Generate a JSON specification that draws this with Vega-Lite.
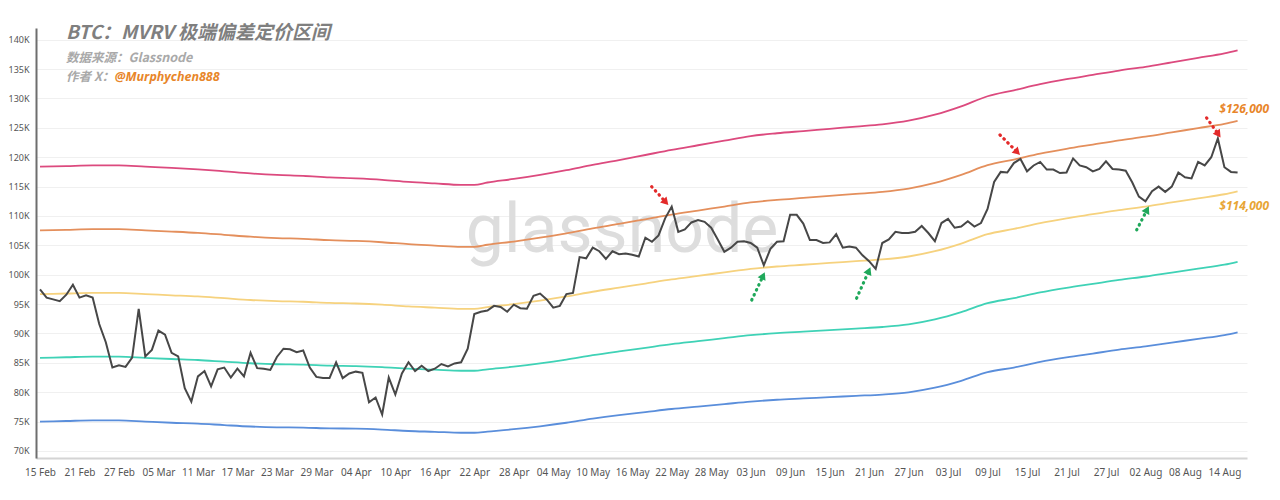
{
  "$schema": "https://vega.github.io/schema/vega-lite/v6.json",
  "width": 1211,
  "height": 430,
  "autosize": {"type": "none"},
  "padding": {"left": 36, "top": 28, "right": 33, "bottom": 42},
  "background": "#ffffff",
  "title": {
    "text": "BTC：MVRV 极端偏差定价区间",
    "subtitle": "数据来源：Glassnode",
    "anchor": "start",
    "frame": "group",
    "dx": 30,
    "offset": -36,
    "font": "Noto Sans CJK SC",
    "fontSize": 19,
    "fontStyle": "italic",
    "fontWeight": "bold",
    "color": "#7f7f7f",
    "subtitleFont": "Noto Sans CJK SC",
    "subtitleFontSize": 12.5,
    "subtitleFontStyle": "italic",
    "subtitleFontWeight": "bold",
    "subtitleColor": "#a9a9a9",
    "subtitlePadding": 9
  },
  "config": {"view": {"stroke": null}},
  "resolve": {"scale": {"color": "independent"}},
  "encoding": {
    "y": {
      "type": "quantitative",
      "scale": {"domain": [68800, 142000], "nice": false, "zero": false},
      "axis": {
        "title": null, "values": [70000, 75000, 80000, 85000, 90000, 95000, 100000, 105000, 110000, 115000, 120000, 125000, 130000, 135000, 140000],
        "tickCount": 15,
        "labelExpr": "datum.value / 1000 + 'K'", "ticks": false, "labelPadding": 7, "labelOverlap": false,
        "labelFont": "Noto Sans", "labelFontSize": 9, "labelColor": "#555555",
        "domainColor": "#6e6e6e", "domainWidth": 2, "grid": true, "gridColor": "#f0f0f0", "gridWidth": 1
      }
    }
  },
  "datasets": {
    "price": [
      {"date": "2025-02-15", "price": 97500}, {"date": "2025-02-16", "price": 96100}, {"date": "2025-02-17", "price": 95800}, {"date": "2025-02-18", "price": 95500}, {"date": "2025-02-19", "price": 96600}, {"date": "2025-02-20", "price": 98300}, {"date": "2025-02-21", "price": 96100}, {"date": "2025-02-22", "price": 96500}, {"date": "2025-02-23", "price": 96100}, {"date": "2025-02-24", "price": 91600}, {"date": "2025-02-25", "price": 88500}, {"date": "2025-02-26", "price": 84200}, {"date": "2025-02-27", "price": 84600}, {"date": "2025-02-28", "price": 84300},
      {"date": "2025-03-01", "price": 85900}, {"date": "2025-03-02", "price": 94200}, {"date": "2025-03-03", "price": 86100}, {"date": "2025-03-04", "price": 87200}, {"date": "2025-03-05", "price": 90500}, {"date": "2025-03-06", "price": 89800}, {"date": "2025-03-07", "price": 86700}, {"date": "2025-03-08", "price": 86100}, {"date": "2025-03-09", "price": 80700}, {"date": "2025-03-10", "price": 78400}, {"date": "2025-03-11", "price": 82700}, {"date": "2025-03-12", "price": 83600}, {"date": "2025-03-13", "price": 81000}, {"date": "2025-03-14", "price": 83900}, {"date": "2025-03-15", "price": 84200}, {"date": "2025-03-16", "price": 82500}, {"date": "2025-03-17", "price": 84000}, {"date": "2025-03-18", "price": 82700}, {"date": "2025-03-19", "price": 86700}, {"date": "2025-03-20", "price": 84100}, {"date": "2025-03-21", "price": 84000}, {"date": "2025-03-22", "price": 83800}, {"date": "2025-03-23", "price": 86000}, {"date": "2025-03-24", "price": 87400}, {"date": "2025-03-25", "price": 87300}, {"date": "2025-03-26", "price": 86800}, {"date": "2025-03-27", "price": 87100}, {"date": "2025-03-28", "price": 84200}, {"date": "2025-03-29", "price": 82600}, {"date": "2025-03-30", "price": 82400}, {"date": "2025-03-31", "price": 82400},
      {"date": "2025-04-01", "price": 85100}, {"date": "2025-04-02", "price": 82400}, {"date": "2025-04-03", "price": 83200}, {"date": "2025-04-04", "price": 83500}, {"date": "2025-04-05", "price": 83300}, {"date": "2025-04-06", "price": 78300}, {"date": "2025-04-07", "price": 79100}, {"date": "2025-04-08", "price": 76200}, {"date": "2025-04-09", "price": 82500}, {"date": "2025-04-10", "price": 79600}, {"date": "2025-04-11", "price": 83200}, {"date": "2025-04-12", "price": 85100}, {"date": "2025-04-13", "price": 83600}, {"date": "2025-04-14", "price": 84500}, {"date": "2025-04-15", "price": 83600}, {"date": "2025-04-16", "price": 84000}, {"date": "2025-04-17", "price": 84800}, {"date": "2025-04-18", "price": 84400}, {"date": "2025-04-19", "price": 84900}, {"date": "2025-04-20", "price": 85100}, {"date": "2025-04-21", "price": 87400}, {"date": "2025-04-22", "price": 93300}, {"date": "2025-04-23", "price": 93700}, {"date": "2025-04-24", "price": 93900}, {"date": "2025-04-25", "price": 94700}, {"date": "2025-04-26", "price": 94500}, {"date": "2025-04-27", "price": 93700}, {"date": "2025-04-28", "price": 94900}, {"date": "2025-04-29", "price": 94300}, {"date": "2025-04-30", "price": 94200},
      {"date": "2025-05-01", "price": 96400}, {"date": "2025-05-02", "price": 96800}, {"date": "2025-05-03", "price": 95800}, {"date": "2025-05-04", "price": 94400}, {"date": "2025-05-05", "price": 94700}, {"date": "2025-05-06", "price": 96700}, {"date": "2025-05-07", "price": 96900}, {"date": "2025-05-08", "price": 103000}, {"date": "2025-05-09", "price": 102800}, {"date": "2025-05-10", "price": 104600}, {"date": "2025-05-11", "price": 104000}, {"date": "2025-05-12", "price": 102700}, {"date": "2025-05-13", "price": 104000}, {"date": "2025-05-14", "price": 103500}, {"date": "2025-05-15", "price": 103600}, {"date": "2025-05-16", "price": 103400}, {"date": "2025-05-17", "price": 103100}, {"date": "2025-05-18", "price": 106300}, {"date": "2025-05-19", "price": 105600}, {"date": "2025-05-20", "price": 106700}, {"date": "2025-05-21", "price": 109600}, {"date": "2025-05-22", "price": 111600}, {"date": "2025-05-23", "price": 107300}, {"date": "2025-05-24", "price": 107700}, {"date": "2025-05-25", "price": 108900}, {"date": "2025-05-26", "price": 109300}, {"date": "2025-05-27", "price": 109000}, {"date": "2025-05-28", "price": 108000}, {"date": "2025-05-29", "price": 106000}, {"date": "2025-05-30", "price": 103900}, {"date": "2025-05-31", "price": 104600},
      {"date": "2025-06-01", "price": 105600}, {"date": "2025-06-02", "price": 105700}, {"date": "2025-06-03", "price": 105400}, {"date": "2025-06-04", "price": 104600}, {"date": "2025-06-05", "price": 101600}, {"date": "2025-06-06", "price": 104400}, {"date": "2025-06-07", "price": 105600}, {"date": "2025-06-08", "price": 105700}, {"date": "2025-06-09", "price": 110200}, {"date": "2025-06-10", "price": 110200}, {"date": "2025-06-11", "price": 108700}, {"date": "2025-06-12", "price": 105900}, {"date": "2025-06-13", "price": 105900}, {"date": "2025-06-14", "price": 105400}, {"date": "2025-06-15", "price": 105500}, {"date": "2025-06-16", "price": 106900}, {"date": "2025-06-17", "price": 104600}, {"date": "2025-06-18", "price": 104800}, {"date": "2025-06-19", "price": 104600}, {"date": "2025-06-20", "price": 103300}, {"date": "2025-06-21", "price": 102300}, {"date": "2025-06-22", "price": 101000}, {"date": "2025-06-23", "price": 105400}, {"date": "2025-06-24", "price": 106000}, {"date": "2025-06-25", "price": 107300}, {"date": "2025-06-26", "price": 107100}, {"date": "2025-06-27", "price": 107100}, {"date": "2025-06-28", "price": 107300}, {"date": "2025-06-29", "price": 108300}, {"date": "2025-06-30", "price": 107100},
      {"date": "2025-07-01", "price": 105700}, {"date": "2025-07-02", "price": 108800}, {"date": "2025-07-03", "price": 109500}, {"date": "2025-07-04", "price": 108000}, {"date": "2025-07-05", "price": 108200}, {"date": "2025-07-06", "price": 109100}, {"date": "2025-07-07", "price": 108200}, {"date": "2025-07-08", "price": 108800}, {"date": "2025-07-09", "price": 111200}, {"date": "2025-07-10", "price": 115800}, {"date": "2025-07-11", "price": 117500}, {"date": "2025-07-12", "price": 117400}, {"date": "2025-07-13", "price": 119000}, {"date": "2025-07-14", "price": 119700}, {"date": "2025-07-15", "price": 117600}, {"date": "2025-07-16", "price": 118600}, {"date": "2025-07-17", "price": 119200}, {"date": "2025-07-18", "price": 117900}, {"date": "2025-07-19", "price": 117900}, {"date": "2025-07-20", "price": 117300}, {"date": "2025-07-21", "price": 117400}, {"date": "2025-07-22", "price": 119800}, {"date": "2025-07-23", "price": 118600}, {"date": "2025-07-24", "price": 118300}, {"date": "2025-07-25", "price": 117600}, {"date": "2025-07-26", "price": 118000}, {"date": "2025-07-27", "price": 119300}, {"date": "2025-07-28", "price": 118000}, {"date": "2025-07-29", "price": 117900}, {"date": "2025-07-30", "price": 117700}, {"date": "2025-07-31", "price": 115700},
      {"date": "2025-08-01", "price": 113300}, {"date": "2025-08-02", "price": 112500}, {"date": "2025-08-03", "price": 114200}, {"date": "2025-08-04", "price": 115000}, {"date": "2025-08-05", "price": 114100}, {"date": "2025-08-06", "price": 115000}, {"date": "2025-08-07", "price": 117400}, {"date": "2025-08-08", "price": 116600}, {"date": "2025-08-09", "price": 116400}, {"date": "2025-08-10", "price": 119200}, {"date": "2025-08-11", "price": 118600}, {"date": "2025-08-12", "price": 120000}, {"date": "2025-08-13", "price": 123200}, {"date": "2025-08-14", "price": 118300}, {"date": "2025-08-15", "price": 117500}, {"date": "2025-08-16", "price": 117400}
    ],
    "bands": [
      {"date": "2025-02-15", "p2": 118400, "p1": 107550, "m0": 96700, "n1": 85850, "n2": 75000},
      {"date": "2025-02-19", "p2": 118500, "p1": 107650, "m0": 96800, "n1": 85950, "n2": 75100},
      {"date": "2025-02-23", "p2": 118600, "p1": 107750, "m0": 96900, "n1": 86050, "n2": 75200},
      {"date": "2025-02-27", "p2": 118600, "p1": 107750, "m0": 96900, "n1": 86050, "n2": 75200},
      {"date": "2025-03-03", "p2": 118400, "p1": 107550, "m0": 96700, "n1": 85850, "n2": 75000},
      {"date": "2025-03-07", "p2": 118200, "p1": 107350, "m0": 96500, "n1": 85650, "n2": 74800},
      {"date": "2025-03-11", "p2": 117940, "p1": 107120, "m0": 96300, "n1": 85480, "n2": 74660},
      {"date": "2025-03-15", "p2": 117600, "p1": 106800, "m0": 96000, "n1": 85200, "n2": 74400},
      {"date": "2025-03-19", "p2": 117240, "p1": 106470, "m0": 95700, "n1": 84930, "n2": 74160},
      {"date": "2025-03-23", "p2": 116980, "p1": 106240, "m0": 95500, "n1": 84760, "n2": 74020},
      {"date": "2025-03-27", "p2": 116820, "p1": 106110, "m0": 95400, "n1": 84690, "n2": 73980},
      {"date": "2025-03-31", "p2": 116560, "p1": 105880, "m0": 95200, "n1": 84520, "n2": 73840},
      {"date": "2025-04-04", "p2": 116400, "p1": 105750, "m0": 95100, "n1": 84450, "n2": 73800},
      {"date": "2025-04-08", "p2": 116160, "p1": 105530, "m0": 94900, "n1": 84270, "n2": 73640},
      {"date": "2025-04-12", "p2": 115800, "p1": 105200, "m0": 94600, "n1": 84000, "n2": 73400},
      {"date": "2025-04-16", "p2": 115540, "p1": 104970, "m0": 94400, "n1": 83830, "n2": 73260},
      {"date": "2025-04-20", "p2": 115300, "p1": 104750, "m0": 94200, "n1": 83650, "n2": 73100},
      {"date": "2025-04-22", "p2": 115300, "p1": 104750, "m0": 94200, "n1": 83650, "n2": 73100},
      {"date": "2025-04-24", "p2": 115700, "p1": 105100, "m0": 94500, "n1": 83900, "n2": 73300},
      {"date": "2025-04-28", "p2": 116300, "p1": 105650, "m0": 95000, "n1": 84350, "n2": 73700},
      {"date": "2025-05-02", "p2": 117000, "p1": 106300, "m0": 95600, "n1": 84900, "n2": 74200},
      {"date": "2025-05-06", "p2": 117800, "p1": 107050, "m0": 96300, "n1": 85550, "n2": 74800},
      {"date": "2025-05-10", "p2": 118700, "p1": 107900, "m0": 97100, "n1": 86300, "n2": 75500},
      {"date": "2025-05-14", "p2": 119500, "p1": 108650, "m0": 97800, "n1": 86950, "n2": 76100},
      {"date": "2025-05-18", "p2": 120380, "p1": 109440, "m0": 98500, "n1": 87560, "n2": 76620},
      {"date": "2025-05-22", "p2": 121260, "p1": 110230, "m0": 99200, "n1": 88170, "n2": 77140},
      {"date": "2025-05-26", "p2": 122040, "p1": 110920, "m0": 99800, "n1": 88680, "n2": 77560},
      {"date": "2025-05-30", "p2": 122820, "p1": 111610, "m0": 100400, "n1": 89190, "n2": 77980},
      {"date": "2025-06-03", "p2": 123600, "p1": 112300, "m0": 101000, "n1": 89700, "n2": 78400},
      {"date": "2025-06-07", "p2": 124080, "p1": 112740, "m0": 101400, "n1": 90060, "n2": 78720},
      {"date": "2025-06-11", "p2": 124460, "p1": 113080, "m0": 101700, "n1": 90320, "n2": 78940},
      {"date": "2025-06-15", "p2": 124840, "p1": 113420, "m0": 102000, "n1": 90580, "n2": 79160},
      {"date": "2025-06-19", "p2": 125220, "p1": 113760, "m0": 102300, "n1": 90840, "n2": 79380},
      {"date": "2025-06-23", "p2": 125600, "p1": 114100, "m0": 102600, "n1": 91100, "n2": 79600},
      {"date": "2025-06-27", "p2": 126220, "p1": 114660, "m0": 103100, "n1": 91540, "n2": 79980},
      {"date": "2025-07-01", "p2": 127240, "p1": 115620, "m0": 104000, "n1": 92380, "n2": 80760},
      {"date": "2025-07-05", "p2": 128660, "p1": 116980, "m0": 105300, "n1": 93620, "n2": 81940},
      {"date": "2025-07-09", "p2": 130380, "p1": 118640, "m0": 106900, "n1": 95160, "n2": 83420},
      {"date": "2025-07-13", "p2": 131400, "p1": 119600, "m0": 107800, "n1": 96000, "n2": 84200},
      {"date": "2025-07-17", "p2": 132440, "p1": 120620, "m0": 108800, "n1": 96980, "n2": 85160},
      {"date": "2025-07-21", "p2": 133280, "p1": 121440, "m0": 109600, "n1": 97760, "n2": 85920},
      {"date": "2025-07-25", "p2": 134020, "p1": 122160, "m0": 110300, "n1": 98440, "n2": 86580},
      {"date": "2025-07-29", "p2": 134760, "p1": 122880, "m0": 111000, "n1": 99120, "n2": 87240},
      {"date": "2025-08-02", "p2": 135400, "p1": 123500, "m0": 111600, "n1": 99700, "n2": 87800},
      {"date": "2025-08-06", "p2": 136160, "p1": 124230, "m0": 112300, "n1": 100370, "n2": 88440},
      {"date": "2025-08-10", "p2": 136920, "p1": 124960, "m0": 113000, "n1": 101040, "n2": 89080},
      {"date": "2025-08-14", "p2": 137680, "p1": 125690, "m0": 113700, "n1": 101710, "n2": 89720},
      {"date": "2025-08-16", "p2": 138200, "p1": 126200, "m0": 114200, "n1": 102200, "n2": 90200}
    ],
    "arrows": [
      {"kind": "peak", "t": "2025-05-18T23:00:00Z", "v": 115000, "t2": "2025-05-20T23:30:00Z", "v2": 112490, "angle": 138},
      {"kind": "peak", "t": "2025-07-10T21:30:00Z", "v": 123800, "t2": "2025-07-13T09:30:00Z", "v2": 121000, "angle": 135},
      {"kind": "peak", "t": "2025-08-11T07:00:00Z", "v": 126700, "t2": "2025-08-12T23:30:00Z", "v2": 124070, "angle": 145},
      {"kind": "trough", "t": "2025-06-03T04:00:00Z", "v": 95700, "t2": "2025-06-04T19:40:00Z", "v2": 99650, "angle": 25},
      {"kind": "trough", "t": "2025-06-19T02:30:00Z", "v": 96000, "t2": "2025-06-20T21:30:00Z", "v2": 100480, "angle": 24},
      {"kind": "trough", "t": "2025-07-31T16:00:00Z", "v": 107640, "t2": "2025-08-02T04:00:00Z", "v2": 110890, "angle": 27}
    ]
  },
  "layer": [
    {
      "data": {"values": [{}]},
      "mark": {"type": "text", "text": "glassnode", "font": "Roboto", "fontSize": 68, "color": "#dddddd", "align": "center", "baseline": "alphabetic"},
      "encoding": {
        "x": {"datum": {"year": 2025, "month": 5, "date": 14, "hours": 11, "utc": true}, "type": "temporal"},
        "y": {"datum": 103890}
      }
    },
    {
      "data": {"name": "bands"},
      "transform": [{"fold": ["p2", "p1", "m0", "n1", "n2"], "as": ["band", "value"]}],
      "mark": {"type": "line", "strokeWidth": 1.8, "interpolate": "monotone"},
      "encoding": {
        "x": {
          "field": "date", "type": "temporal",
          "scale": {"type": "utc", "domain": [{"year": 2025, "month": 2, "date": 14, "hours": 9, "minutes": 24, "utc": true}, {"year": 2025, "month": 8, "date": 17, "hours": 10, "minutes": 20, "utc": true}]},
          "axis": {
            "title": null, "labelExpr": "utcFormat(datum.value, '%d %b')", "grid": false, "ticks": false, "labelOverlap": false,
            "domainColor": "#d4d4d4", "domainWidth": 2, "labelPadding": 9, "labelFont": "Noto Sans", "labelFontSize": 10, "labelColor": "#555555",
            "values": [
              {"year": 2025, "month": 2, "date": 15, "utc": true}, {"year": 2025, "month": 2, "date": 21, "utc": true}, {"year": 2025, "month": 2, "date": 27, "utc": true},
              {"year": 2025, "month": 3, "date": 5, "utc": true}, {"year": 2025, "month": 3, "date": 11, "utc": true}, {"year": 2025, "month": 3, "date": 17, "utc": true}, {"year": 2025, "month": 3, "date": 23, "utc": true}, {"year": 2025, "month": 3, "date": 29, "utc": true},
              {"year": 2025, "month": 4, "date": 4, "utc": true}, {"year": 2025, "month": 4, "date": 10, "utc": true}, {"year": 2025, "month": 4, "date": 16, "utc": true}, {"year": 2025, "month": 4, "date": 22, "utc": true}, {"year": 2025, "month": 4, "date": 28, "utc": true},
              {"year": 2025, "month": 5, "date": 4, "utc": true}, {"year": 2025, "month": 5, "date": 10, "utc": true}, {"year": 2025, "month": 5, "date": 16, "utc": true}, {"year": 2025, "month": 5, "date": 22, "utc": true}, {"year": 2025, "month": 5, "date": 28, "utc": true},
              {"year": 2025, "month": 6, "date": 3, "utc": true}, {"year": 2025, "month": 6, "date": 9, "utc": true}, {"year": 2025, "month": 6, "date": 15, "utc": true}, {"year": 2025, "month": 6, "date": 21, "utc": true}, {"year": 2025, "month": 6, "date": 27, "utc": true},
              {"year": 2025, "month": 7, "date": 3, "utc": true}, {"year": 2025, "month": 7, "date": 9, "utc": true}, {"year": 2025, "month": 7, "date": 15, "utc": true}, {"year": 2025, "month": 7, "date": 21, "utc": true}, {"year": 2025, "month": 7, "date": 27, "utc": true},
              {"year": 2025, "month": 8, "date": 2, "utc": true}, {"year": 2025, "month": 8, "date": 8, "utc": true}, {"year": 2025, "month": 8, "date": 14, "utc": true}
            ]
          }
        },
        "y": {"field": "value"},
        "color": {
          "field": "band", "type": "nominal",
          "scale": {"domain": ["p2", "p1", "m0", "n1", "n2"], "range": ["#dc4a7e", "#e48f5c", "#f6d27e", "#3fd2b6", "#5a8edb"]},
          "legend": null
        }
      }
    },
    {
      "data": {"name": "price"},
      "mark": {"type": "line", "color": "#474747", "strokeWidth": 2},
      "encoding": {
        "x": {"field": "date", "type": "temporal"},
        "y": {"field": "price"}
      }
    },
    {
      "data": {"name": "arrows"},
      "mark": {"type": "rule", "strokeWidth": 3.2, "strokeDash": [0.5, 5], "strokeCap": "round"},
      "encoding": {
        "x": {"field": "t", "type": "temporal"},
        "x2": {"field": "t2"},
        "y": {"field": "v"},
        "y2": {"field": "v2"},
        "color": {"field": "kind", "type": "nominal", "scale": {"domain": ["peak", "trough"], "range": ["#e32a2a", "#1fa85a"]}, "legend": null}
      }
    },
    {
      "data": {"name": "arrows"},
      "mark": {"type": "point", "shape": "triangle", "filled": true, "size": 75, "opacity": 1},
      "encoding": {
        "x": {"field": "t2", "type": "temporal"},
        "y": {"field": "v2"},
        "angle": {"field": "angle", "type": "quantitative", "scale": null},
        "color": {"field": "kind", "type": "nominal", "scale": {"domain": ["peak", "trough"], "range": ["#e32a2a", "#1fa85a"]}, "legend": null}
      }
    },
    {
      "data": {"values": [{}]},
      "mark": {"type": "text", "text": "$126,000", "font": "Noto Sans", "fontSize": 12, "fontStyle": "italic", "fontWeight": "bold", "color": "#e8862a", "align": "center", "baseline": "middle"},
      "encoding": {
        "x": {"datum": {"year": 2025, "month": 8, "date": 17, "utc": true}, "type": "temporal"},
        "y": {"datum": 128200}
      }
    },
    {
      "data": {"values": [{}]},
      "mark": {"type": "text", "text": "$114,000", "font": "Noto Sans", "fontSize": 12, "fontStyle": "italic", "fontWeight": "bold", "color": "#e8a535", "align": "center", "baseline": "middle"},
      "encoding": {
        "x": {"datum": {"year": 2025, "month": 8, "date": 17, "utc": true}, "type": "temporal"},
        "y": {"datum": 111700}
      }
    },
    {
      "data": {"values": [{}]},
      "mark": {"type": "text", "text": "作者 X：", "font": "Noto Sans CJK SC", "fontSize": 12.5, "fontStyle": "italic", "fontWeight": "bold", "color": "#a9a9a9", "align": "left", "baseline": "middle"},
      "encoding": {
        "x": {"datum": {"year": 2025, "month": 2, "date": 18, "hours": 23, "utc": true}, "type": "temporal"},
        "y": {"datum": 133690}
      }
    },
    {
      "data": {"values": [{}]},
      "mark": {"type": "text", "text": "@Murphychen888", "font": "Noto Sans", "fontSize": 12.5, "fontStyle": "italic", "fontWeight": "bold", "color": "#e8862a", "align": "left", "baseline": "middle"},
      "encoding": {
        "x": {"datum": {"year": 2025, "month": 2, "date": 26, "hours": 9, "utc": true}, "type": "temporal"},
        "y": {"datum": 133690}
      }
    }
  ]
}
